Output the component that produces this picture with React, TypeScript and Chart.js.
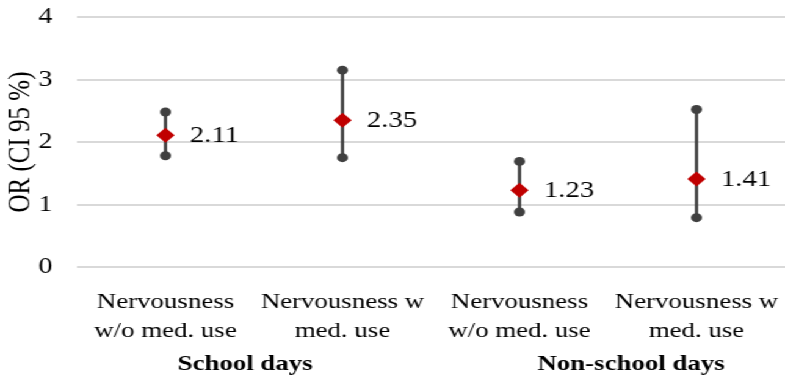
import React, { useEffect, useRef } from "react";
import { Chart, registerables } from "chart.js";

Chart.register(...registerables);

// Odds ratios with 95 % confidence intervals
const categories: string[][] = [
  ["Nervousness", "w/o med. use"],
  ["Nervousness w", "med. use"],
  ["Nervousness", "w/o med. use"],
  ["Nervousness w", "med. use"],
];
const oddsRatio = [2.11, 2.35, 1.23, 1.41];
const ciLower = [1.78, 1.75, 0.88, 0.79];
const ciUpper = [2.48, 3.15, 1.69, 2.52];
const groupNames = ["School days", "Non-school days"];
const yTicks = [0, 1, 2, 3, 4];

const FONT = "'Liberation Serif', 'Times New Roman', serif";
const WIDTH = 785;
const HEIGHT = 381;
// the figure is drawn narrow and widened horizontally
const INNER_W = 643;
const STRETCH = WIDTH / INNER_W;

const valueLabels = {
  id: "valueLabels",
  afterDatasetsDraw(chart: any) {
    const meta = chart.getDatasetMeta(3);
    const ctx = chart.ctx;
    ctx.save();
    ctx.font = `23.5px ${FONT}`;
    ctx.fillStyle = "#000";
    ctx.textAlign = "left";
    ctx.textBaseline = "middle";
    meta.data.forEach((pt: any, i: number) => {
      ctx.fillText(oddsRatio[i].toFixed(2), pt.x + 20, pt.y + 1);
    });
    ctx.restore();
  },
};

// group captions below the category labels
const groupLabels = {
  id: "groupLabels",
  afterDraw(chart: any) {
    const x = chart.scales.x;
    const ctx = chart.ctx;
    const centers = [0.45, 2.63];
    ctx.save();
    ctx.font = `bold 22px ${FONT}`;
    ctx.fillStyle = "#000";
    ctx.textAlign = "center";
    ctx.textBaseline = "middle";
    groupNames.forEach((name, i) => {
      ctx.fillText(name, x.getPixelForValue(centers[i]), 364);
    });
    ctx.restore();
  },
};

export default function App() {
  const ref = useRef<HTMLCanvasElement | null>(null);

  useEffect(() => {
    if (!ref.current) return;
    const chart = new Chart(ref.current, {
      type: "bar",
      data: {
        labels: categories as any,
        datasets: [
          {
            type: "bar",
            label: "CI",
            data: ciLower.map((lo, i) => [lo, ciUpper[i]]) as any,
            backgroundColor: "#404040",
            barThickness: 2,
            order: 4,
          },
          {
            type: "line",
            label: "Lower",
            data: ciLower,
            showLine: false,
            pointRadius: 4.5,
            pointBackgroundColor: "#404040",
            pointBorderColor: "#404040",
            pointBorderWidth: 0,
            order: 3,
          },
          {
            type: "line",
            label: "Upper",
            data: ciUpper,
            showLine: false,
            pointRadius: 4.5,
            pointBackgroundColor: "#404040",
            pointBorderColor: "#404040",
            pointBorderWidth: 0,
            order: 2,
          },
          {
            type: "line",
            label: "OR",
            data: oddsRatio,
            showLine: false,
            pointStyle: "rectRot",
            pointRadius: 7.5,
            pointBackgroundColor: "#C00000",
            pointBorderColor: "#C00000",
            pointBorderWidth: 0,
            order: 1,
          },
        ],
      },
      options: {
        animation: false,
        responsive: false,
        devicePixelRatio: 1,
        layout: {
          autoPadding: false,
          padding: { top: 17, right: 0, left: 0, bottom: 0 },
        },
        plugins: {
          legend: { display: false },
          tooltip: { enabled: false },
        },
        scales: {
          x: {
            offset: true,
            // tick marks stay hidden; their length only spaces the labels
            grid: { display: false, drawTicks: true, tickLength: 21 },
            border: { display: false },
            ticks: {
              font: { family: FONT, size: 22, lineHeight: 1.3 },
              color: "#000",
              padding: 0,
              maxRotation: 0,
              autoSkip: false,
            },
            afterFit(scale: any) {
              scale.height = 114;
              scale.paddingLeft = 0;
              scale.paddingRight = 0;
            },
          },
          y: {
            min: 0,
            max: 4,
            afterBuildTicks(scale: any) {
              scale.ticks = yTicks.map((v) => ({ value: v }));
            },
            grid: { color: "#d9d9d9", lineWidth: 2, drawTicks: false },
            border: { display: false },
            ticks: {
              font: { family: FONT, size: 23 },
              color: "#000",
              padding: 20,
            },
            title: {
              display: true,
              text: "OR (CI 95 %)",
              font: { family: FONT, size: 25 },
              color: "#000",
              padding: { top: 2, bottom: 0 },
            },
            afterFit(scale: any) {
              scale.width = 77 / STRETCH;
              scale.paddingTop = 0;
              scale.paddingBottom = 0;
            },
          },
        },
      },
      plugins: [valueLabels, groupLabels],
    });
    return () => chart.destroy();
  }, []);

  return (
    <div
      style={{
        position: "absolute",
        left: 0,
        top: 0,
        width: INNER_W,
        height: HEIGHT,
        transform: `scaleX(${STRETCH})`,
        transformOrigin: "0 0",
        background: "#fff",
      }}
    >
      <canvas
        ref={ref}
        width={INNER_W}
        height={HEIGHT}
        style={{ display: "block", width: INNER_W, height: HEIGHT }}
      />
    </div>
  );
}
